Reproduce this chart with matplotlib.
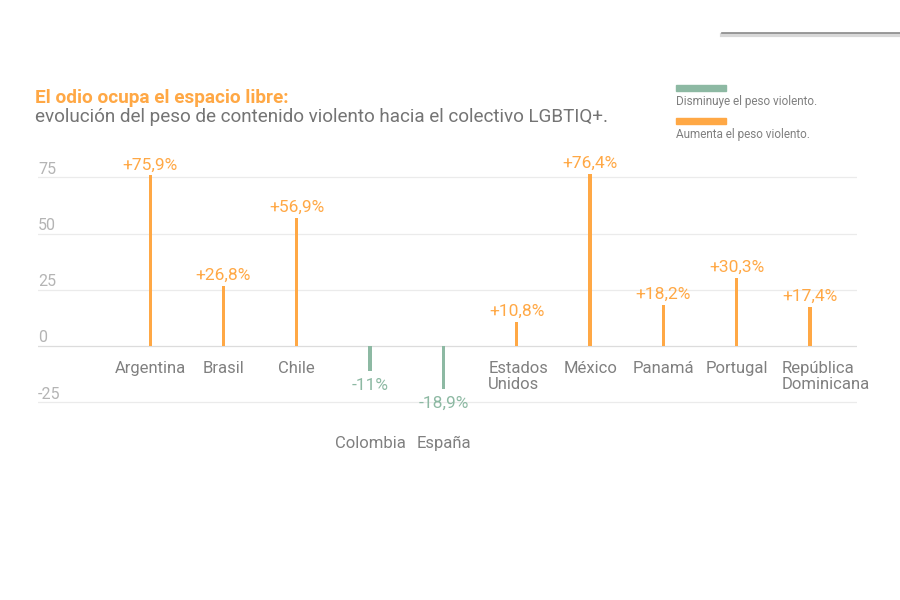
import matplotlib
matplotlib.use('Agg')
import matplotlib.pyplot as plt
from matplotlib.lines import Line2D
from matplotlib.patches import Rectangle

plt.rcParams['font.family'] = ['Roboto', 'DejaVu Sans']

# data
countries = ['Argentina', 'Brasil', 'Chile', 'Colombia', 'España',
             'Estados\nUnidos', 'México', 'Panamá', 'Portugal',
             'República\nDominicana']
values = [75.9, 26.8, 56.9, -11, -18.9, 10.8, 76.4, 18.2, 30.3, 17.4]
value_labels = ['+75,9%', '+26,8%', '+56,9%', '-11%', '-18,9%',
                '+10,8%', '+76,4%', '+18,2%', '+30,3%', '+17,4%']
yticks = [-25, 0, 25, 50, 75]

orange = '#FFA845'
green = '#8DB9A3'
gray = '#808080'
light = '#b4b4b4'

fig = plt.figure(figsize=(9, 6), dpi=100)
ax = fig.add_axes([38 / 900, 1 - 413.5 / 600, 819 / 900, (413.5 - 154.75) / 600])
ax.set_xlim(-1.53, 9.64)
ax.set_ylim(-30, 85)
ax.axis('off')

# gridlines + tick labels
for t in yticks:
    ax.axhline(t, color='#dcdcdc' if t == 0 else '#ebebeb', lw=0.9, zorder=0)
    ax.annotate(str(t), (-1.53, t), xytext=(0, 0.5), textcoords='offset points',
                ha='left', va='bottom', fontsize=11.5, color=light)

xs = list(range(len(countries)))
cols = [orange if v > 0 else green for v in values]
ax.bar(xs, values, width=0.045, color=cols, zorder=2, clip_on=False)

for x, v, lab, name in zip(xs, values, value_labels, countries):
    c = orange if v > 0 else green
    if v > 0:
        ax.annotate(lab, (x, v), xytext=(0, 2), textcoords='offset points',
                    ha='center', va='bottom', fontsize=12.5, color=c)
        if '\n' in name:
            ax.text(x - 0.39, -6.8, name, ha='left', va='top', fontsize=12,
                    color=gray, linespacing=1.05)
        else:
            ax.text(x, -6.8, name, ha='center', va='top', fontsize=12, color=gray)
    else:
        ax.annotate(lab, (x, v), xytext=(0, -5), textcoords='offset points',
                    ha='center', va='top', fontsize=12.5, color=c)
        ax.text(x, -40, name, ha='center', va='top', fontsize=12, color=gray)

# titles
fig.text(35 / 900, 1 - 103 / 600, 'El odio ocupa el espacio libre:',
         fontsize=13.7, fontweight='bold', color=orange, ha='left', va='baseline')
fig.text(35 / 900, 1 - 122 / 600,
         'evolución del peso de contenido violento hacia el colectivo LGBTIQ+.',
         fontsize=13.6, color='#747474', ha='left', va='baseline')

# legend
fig.patches.append(Rectangle((676 / 900, 1 - 91 / 600), 50 / 900, 6 / 600,
                             color=green, transform=fig.transFigure))
fig.text(676 / 900, 1 - 105 / 600, 'Disminuye el peso violento.',
         fontsize=8.5, color=gray, ha='left', va='baseline')
fig.patches.append(Rectangle((676 / 900, 1 - 124 / 600), 50 / 900, 6 / 600,
                             color=orange, transform=fig.transFigure))
fig.text(676 / 900, 1 - 138 / 600, 'Aumenta el peso violento.',
         fontsize=8.5, color=gray, ha='left', va='baseline')

# shadow line top right
fig.add_artist(Line2D([722 / 900, 1], [1 - 35 / 600, 1 - 35 / 600],
                      color='#d8d8d8', lw=3, transform=fig.transFigure))
fig.add_artist(Line2D([722 / 900, 1], [1 - 33 / 600, 1 - 33 / 600],
                      color='#8a8a8a', lw=1.2, transform=fig.transFigure))

fig.savefig('out.png', dpi=100)
